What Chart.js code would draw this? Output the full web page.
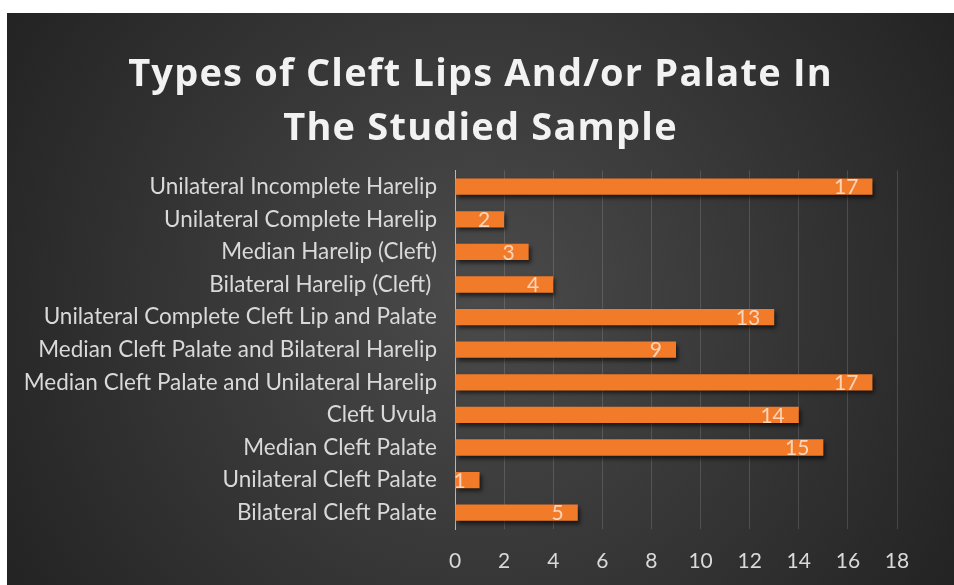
<!DOCTYPE html>
<html>
<head>
<meta charset="utf-8">
<script src="https://cdn.jsdelivr.net/npm/chart.js@4/dist/chart.umd.min.js"></script>
<style>
  html, body { margin: 0; padding: 0; background: #ffffff; }
  #wrap { position: absolute; left: 7px; top: 13px; width: 947px; height: 572px; }
</style>
</head>
<body>
<div id="wrap"><canvas id="cleftChart"></canvas></div>
<script>
// categories top to bottom, as in the picture
const categories = [
  "Unilateral Incomplete Harelip",
  "Unilateral Complete Harelip",
  "Median Harelip (Cleft)",
  "Bilateral Harelip (Cleft) ",
  "Unilateral Complete Cleft Lip and Palate",
  "Median Cleft Palate and Bilateral Harelip",
  "Median Cleft Palate and Unilateral Harelip",
  "Cleft Uvula",
  "Median Cleft Palate",
  "Unilateral Cleft Palate",
  "Bilateral Cleft Palate"
];
const counts = [17, 2, 3, 4, 13, 9, 17, 14, 15, 1, 5];
const titleLines = ["Types of Cleft Lips And/or Palate In", "The Studied Sample"];
const axisMax = 18;
const axisStep = 2;

// dark radial background like the office theme
const backgroundPlugin = {
  id: "darkBackground",
  beforeDraw(chart) {
    const ctx = chart.ctx;
    const w = chart.width, h = chart.height;
    const g = ctx.createRadialGradient(w * 0.5, h * 0.5, 0, w * 0.5, h * 0.5, w * 0.6);
    g.addColorStop(0, "#4b4b4b");
    g.addColorStop(1, "#222222");
    ctx.save();
    ctx.fillStyle = g;
    ctx.fillRect(0, 0, w, h);
    ctx.restore();
  }
};

// wider letter spacing for the title only
const titleSpacing = {
  id: "titleSpacing",
  afterLayout(chart) {
    const tb = chart.titleBlock;
    if (tb && !tb._spaced) {
      const orig = tb.draw.bind(tb);
      tb.draw = function () {
        const c = this.ctx;
        c.save();
        c.letterSpacing = "1.2px";
        orig();
        c.restore();
      };
      tb._spaced = true;
    }
  }
};

// drop shadow under the bars
const shadowPlugin = {
  id: "barShadow",
  beforeDatasetsDraw(chart) {
    const ctx = chart.ctx;
    ctx.save();
    ctx.shadowColor = "rgba(0,0,0,0.6)";
    ctx.shadowBlur = 4;
    ctx.shadowOffsetX = 2;
    ctx.shadowOffsetY = 3;
  },
  afterDatasetsDraw(chart) {
    chart.ctx.restore();
  }
};

// value labels at inside end of each bar
const valueLabels = {
  id: "valueLabels",
  afterDatasetsDraw(chart) {
    const ctx = chart.ctx;
    const meta = chart.getDatasetMeta(0);
    ctx.save();
    ctx.font = "21px Lato";
    ctx.fillStyle = "rgba(255,255,255,0.68)";
    ctx.textAlign = "right";
    ctx.textBaseline = "middle";
    meta.data.forEach((bar, i) => {
      ctx.fillText(String(counts[i]), bar.x - 14, bar.y + 1);
    });
    ctx.restore();
  }
};

const ctx = document.getElementById("cleftChart").getContext("2d");

new Chart(ctx, {
  type: "bar",
  data: {
    labels: categories,
    datasets: [{
      data: counts,
      backgroundColor: "#f27b2a",
      borderWidth: 0,
      barPercentage: 0.5,
      categoryPercentage: 1.0
    }]
  },
  options: {
    indexAxis: "y",
    responsive: true,
    maintainAspectRatio: false,
    animation: false,
    layout: {
      padding: { left: 0, right: 0, top: 0, bottom: 11 }
    },
    plugins: {
      legend: { display: false },
      tooltip: { enabled: false },
      title: {
        display: true,
        text: titleLines,
        color: "#f2f2f2",
        font: { family: "Open Sans", size: 38, weight: "bold", lineHeight: 1.4 },
        padding: { top: 36, bottom: 15 }
      }
    },
    scales: {
      x: {
        min: 0,
        max: axisMax,
        afterFit(scale) { scale.height = 45; },
        ticks: {
          stepSize: axisStep,
          color: "#d9d9d9",
          font: { family: "Lato", size: 21 },
          padding: 20
        },
        grid: { color: "rgba(255,255,255,0.14)", drawTicks: false },
        border: { display: false }
      },
      y: {
        afterFit(scale) { scale.width = 448; },
        ticks: {
          color: "#d9d9d9",
          font: { family: "Lato", size: 22.5 },
          padding: 18
        },
        grid: { display: false, drawTicks: false },
        border: { display: true, color: "#a9bccb", width: 1 }
      },
      // empty right axis only reserves the space right of the plot
      yRight: {
        position: "right",
        afterFit(scale) { scale.width = 57; },
        ticks: { display: false },
        grid: { display: false, drawTicks: false },
        border: { display: false }
      }
    }
  },
  plugins: [backgroundPlugin, titleSpacing, shadowPlugin, valueLabels]
});
</script>
</body>
</html>
